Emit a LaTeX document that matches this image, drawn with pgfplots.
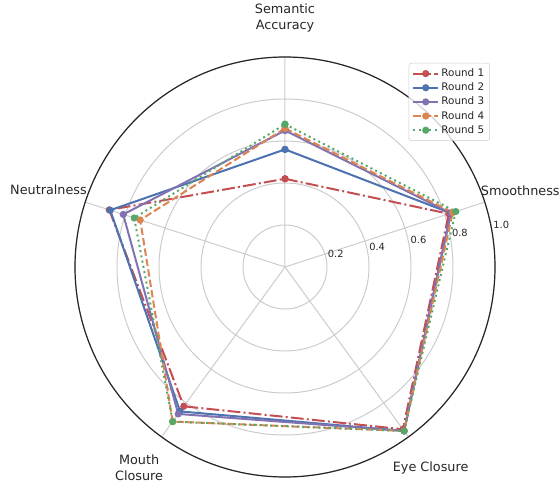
\documentclass[border=0pt]{standalone}
\usepackage{pgfplots}
\pgfplotsset{compat=1.18}
\usepgfplotslibrary{polar}
\usepackage{fontspec}
\setmainfont{DejaVu Sans}
\definecolor{c1}{HTML}{C44E52}
\definecolor{c2}{HTML}{4C72B0}
\definecolor{c3}{HTML}{8172B2}
\definecolor{c4}{HTML}{DD8452}
\definecolor{c5}{HTML}{55A868}
\definecolor{txt}{HTML}{262626}
\definecolor{gridc}{HTML}{CCCCCC}
\begin{document}
\begin{tikzpicture}
\path[use as bounding box] (-213.75pt,-162.75pt) rectangle (206.25pt,200.25pt);
\begin{polaraxis}[
  at={(0,0)}, anchor=center,
  width=315pt, height=315pt, scale only axis,
  xmin=0, xmax=360, ymin=0, ymax=1,
  xtick={18,90,162,234,306}, xticklabels={},
  ytick={0.2,0.4,0.6,0.8,1.0}, yticklabels={},
  major tick length=0pt,
  grid=major,
  major grid style={gridc, line width=0.75pt},
  axis line style={txt, line width=0.9pt},
  y axis line style={draw=none},
  clip=false,
  legend style={at={(0.988,0.986)}, anchor=north east, draw=gridc, fill=white, fill opacity=0.8, text opacity=1, rounded corners=2pt, font=\fontsize{7.8}{8.5}\selectfont, text=txt, inner sep=2.5pt, row sep=0pt, nodes={inner sep=1.6pt}},
  legend cell align=left,
  legend image code/.code={\draw[mark repeat=2,mark phase=2] plot coordinates {(0cm,0cm)(0.33cm,0cm)(0.66cm,0cm)};},
  every axis plot/.append style={line width=1.5pt, mark=*, mark size=1.9pt},
]
\addplot[c1, dash pattern=on 9.6pt off 2.4pt on 1.5pt off 2.4pt, mark options={solid}] coordinates {(90,0.42) (18,0.82) (-54,0.955) (-126,0.82) (-198,0.88) (-270,0.42)};
\addlegendentry{Round 1}
\addplot[c2, solid, mark options={solid}] coordinates {(90,0.56) (18,0.83) (-54,0.965) (-126,0.85) (-198,0.875) (-270,0.56)};
\addlegendentry{Round 2}
\addplot[c3, solid, mark options={solid}] coordinates {(90,0.65) (18,0.83) (-54,0.965) (-126,0.865) (-198,0.81) (-270,0.65)};
\addlegendentry{Round 3}
\addplot[c4, dash pattern=on 5.5pt off 2.4pt, mark options={solid}] coordinates {(90,0.66) (18,0.84) (-54,0.965) (-126,0.91) (-198,0.725) (-270,0.66)};
\addlegendentry{Round 4}
\addplot[c5, dash pattern=on 1.5pt off 2.5pt, mark options={solid}] coordinates {(90,0.68) (18,0.855) (-54,0.965) (-126,0.91) (-198,0.755) (-270,0.68)};
\addlegendentry{Round 5}
\begin{scope}[every node/.style={font=\fontsize{7.4}{9}\selectfont, text=txt, anchor=south west, inner sep=1pt}]
\node at (axis cs:10,0.2) {0.2};
\node at (axis cs:10,0.4) {0.4};
\node at (axis cs:10,0.6) {0.6};
\node at (axis cs:10,0.8) {0.8};
\node at (axis cs:10,1.0) {1.0};
\end{scope}
\begin{scope}[every node/.style={font=\fontsize{9.6}{12}\selectfont, text=txt, align=center, anchor=center, inner sep=0pt}]
\node at (axis cs:90,1.185) {Semantic\\Accuracy};
\node at (axis cs:18,1.178) {Smoothness};
\node at (axis cs:-54,1.18) {Eye Closure};
\node at (axis cs:-126,1.182) {Mouth\\Closure};
\node at (axis cs:162,1.184) {Neutralness};
\end{scope}
\end{polaraxis}
\end{tikzpicture}
\end{document}
